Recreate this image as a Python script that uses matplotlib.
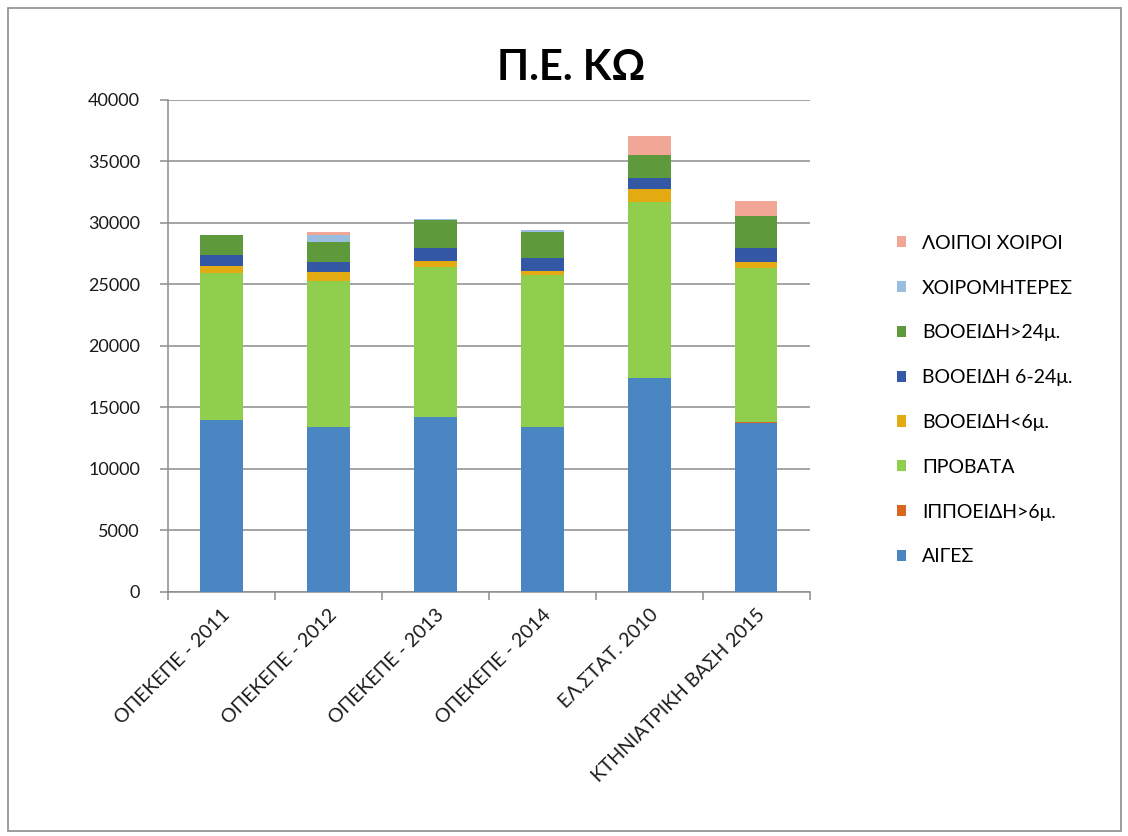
import numpy as np
import matplotlib.pyplot as plt
from matplotlib.patches import Rectangle

plt.rcParams['font.family'] = ['Lato', 'DejaVu Sans']

# Κατηγορίες (άξονας x)
categories = ['ΟΠΕΚΕΠΕ - 2011', 'ΟΠΕΚΕΠΕ - 2012', 'ΟΠΕΚΕΠΕ - 2013',
              'ΟΠΕΚΕΠΕ - 2014', 'ΕΛ.ΣΤΑΤ. 2010', 'ΚΤΗΝΙΑΤΡΙΚΗ ΒΑΣΗ 2015']

# Σειρές (από κάτω προς τα πάνω)
aiges = [13970, 13420, 14190, 13400, 17360, 13750]
ippoeidi = [40, 30, 40, 30, 60, 40]
provata = [11930, 11850, 12230, 12360, 14310, 12570]
vooeidi_6 = [540, 755, 410, 270, 1030, 490]
vooeidi_6_24 = [950, 770, 1090, 1090, 870, 1140]
vooeidi_24 = [1600, 1620, 2300, 2100, 1900, 2570]
xoiromiteres = [30, 600, 90, 150, 0, 0]
loipoi_xoiroi = [0, 190, 0, 0, 1530, 1220]

series_names = ['ΑΙΓΕΣ', 'ΙΠΠΟΕΙΔΗ>6μ.', 'ΠΡΟΒΑΤΑ', 'ΒΟΟΕΙΔΗ<6μ.',
                'ΒΟΟΕΙΔΗ 6-24μ.', 'ΒΟΟΕΙΔΗ>24μ.', 'ΧΟΙΡΟΜΗΤΕΡΕΣ', 'ΛΟΙΠΟΙ ΧΟΙΡΟΙ']
series = [aiges, ippoeidi, provata, vooeidi_6, vooeidi_6_24, vooeidi_24,
          xoiromiteres, loipoi_xoiroi]
colors = ['#4a86c2', '#d9661f', '#8fcf4d', '#e3aa12', '#3458a6', '#5e9a3c',
          '#9bbde0', '#f2a695']

fig = plt.figure(figsize=(11.28, 8.36), dpi=100)
ax = fig.add_axes([0.1488, 0.2919, 0.5689, 0.5885])

x = np.arange(len(categories))
bottom = np.zeros(len(categories))
handles = []
for name, vals, col in zip(series_names, series, colors):
    vals = np.array(vals, dtype=float)
    b = ax.bar(x, vals, 0.4, bottom=bottom, color=col, label=name, zorder=3)
    handles.append(b)
    bottom += vals

ax.set_xlim(-0.5, len(categories) - 0.5)
ax.set_ylim(0, 40000)
ax.set_yticks(np.arange(0, 40001, 5000))
ax.yaxis.grid(True, color='#8c8c8c', linewidth=1.1, zorder=0)
ax.set_axisbelow(True)

for s in ['top', 'right']:
    ax.spines[s].set_visible(False)
ax.spines['left'].set_color('#8c8c8c')
ax.spines['bottom'].set_color('#8c8c8c')
ax.spines['left'].set_linewidth(1.1)
ax.spines['bottom'].set_linewidth(1.1)

ax.set_xticks(x)
ax.set_xticklabels(categories, rotation=45, ha='right', rotation_mode='anchor',
                   fontsize=14, color='#1a1a1a')
ax.tick_params(axis='x', length=0, pad=10)
ax.set_xticks(np.arange(-0.5, len(categories)), minor=True)
ax.tick_params(axis='x', which='minor', length=6, color='#8c8c8c', width=1.1)
ax.tick_params(axis='y', labelsize=13, length=6, color='#8c8c8c', width=1.1,
               pad=14, labelcolor='#1a1a1a')

fig.text(0.506, 0.919, 'Π.Ε. ΚΩ', ha='center', va='center', fontsize=30,
         fontweight='bold')

leg = fig.legend(handles[::-1], series_names[::-1], loc='center left',
                 bbox_to_anchor=(0.795, 0.5215), frameon=False, fontsize=14,
                 handlelength=0.5, handleheight=0.5, handletextpad=0.8,
                 labelspacing=1.43, borderpad=0, borderaxespad=0)

fig.patches.append(Rectangle((0.007, 0.006), 0.987, 0.985, transform=fig.transFigure,
                             fill=False, edgecolor='#8c8c8c', linewidth=1.2))

fig.savefig('out.png', dpi=100)
